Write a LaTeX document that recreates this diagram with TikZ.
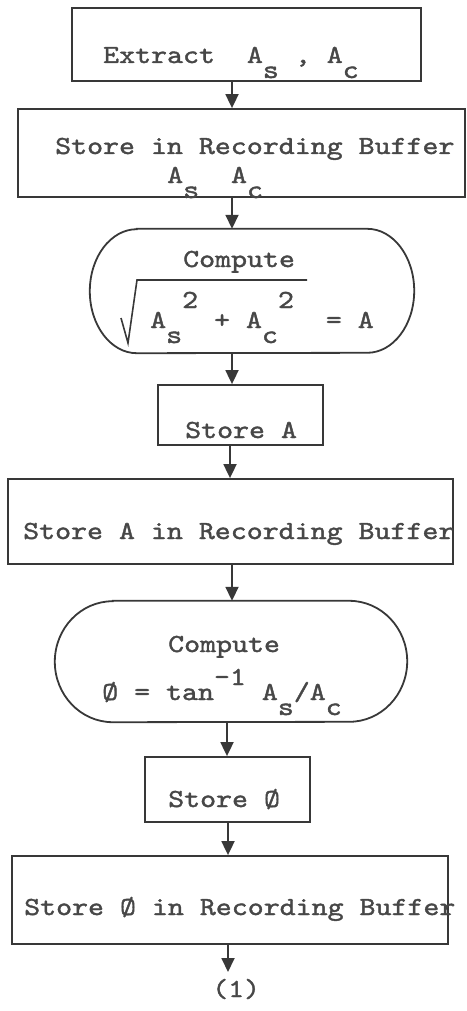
\documentclass[tikz,border=0pt]{standalone}
\usepackage{fontspec}
\usetikzlibrary{arrows.meta}
% a wide typewriter face
\newfontfamily\tyfam[FakeStretch=1.17, FakeBold=1.5]{lmmono10-regular.otf}
\newcommand\tyfont{\fontsize{26pt}{31pt}\selectfont\tyfam}
\newcommand\dn[1]{\raisebox{-15pt}{#1}}
\newcommand\upr[2]{\raisebox{#1}{#2}}
\tikzset{
  ln/.style={draw=black!78, line width=1.8pt},
  box/.style={ln, rectangle, inner sep=0pt},
  oval/.style={rectangle, inner sep=0pt},
  tx/.style={anchor=base west, inner sep=0pt, text=black!72, font=\tyfont},
  arr/.style={ln, -{Triangle[length=14pt,width=13pt]}},
}
\begin{document}
\begin{tikzpicture}[x=1pt, y=-1pt]
\useasboundingbox (0,0) rectangle (466,1011);

% process boxes and terminal-shaped compute steps
\node[box, minimum width=349pt, minimum height=73pt] (b1) at (246.5,44.5) {};
\node[box, minimum width=447pt, minimum height=88pt] (b2) at (241.5,153) {};
\node[oval, minimum width=324pt, minimum height=124pt] (t1) at (252,291) {};
\node[box, minimum width=165pt, minimum height=60pt] (b3) at (240.5,415) {};
\node[box, minimum width=445pt, minimum height=85pt] (b4) at (230.5,521.5) {};
\node[oval, minimum width=352pt, minimum height=121pt] (t2) at (231,661.5) {};
\node[box, minimum width=165pt, minimum height=65pt] (b5) at (227.5,789.5) {};
\node[box, minimum width=436pt, minimum height=88pt] (b6) at (230,900) {};

% rounded outlines of the compute steps
\draw[ln] ([xshift=47pt]t1.north west) -- ([xshift=-47pt]t1.north east)
  arc[start angle=90, end angle=-90, x radius=47pt, y radius=62pt]
  -- ([xshift=47pt]t1.south west)
  arc[start angle=270, end angle=90, x radius=47pt, y radius=62pt] -- cycle;
\draw[ln] ([xshift=58pt]t2.north west) -- ([xshift=-58pt]t2.north east)
  arc[start angle=90, end angle=-90, x radius=58pt, y radius=60.5pt]
  -- ([xshift=58pt]t2.south west)
  arc[start angle=270, end angle=90, x radius=58pt, y radius=60.5pt] -- cycle;

% texts
\node[tx] (x1) at (103,63) {Extract~~A\dn{s}~,~A\dn{c}};
\node[tx] (x2) at (55,154) {Store in Recording Buffer};
\node[tx] (x2b) at (167,183) {A\dn{s}~~A\dn{c}};
\node[tx] (x3) at (183,267) {Compute};
\node[tx] (x3b) at (150,328) {A\dn{s}\upr{20pt}{2}~+~A\dn{c}\upr{20pt}{2}~~=~A};
\node[tx] (x4) at (185,438) {Store A};
\node[tx] (x5) at (23,539) {Store A in Recording Buffer};
\node[tx] (x6) at (168,652) {Compute};
\node[tx] (x6b) at (102,700) {\O~=~tan\upr{15pt}{-1}~A\dn{s}/A\dn{c}};
\node[tx] (x7) at (168,807) {Store \O};
\node[tx] (x8) at (24,915) {Store \O{} in Recording Buffer};
\node[tx] (x9) at (212,997) {(1)};

% radical sign over the sum of squares
\draw[ln, line width=1.6pt] (121,318) -- (128,343) -- (137,280) -- (307,280);

% connectors
\coordinate (c1) at (232,0);
\coordinate (c2) at (230,0);
\coordinate (c3) at (228,0);
\coordinate (c4) at (227,0);
\coordinate (end) at (228,972);
\draw[arr] (b1.south -| c1) -- (b2.north -| c1);
\draw[arr] (b2.south -| c1) -- (t1.north -| c1);
\draw[arr] (t1.south -| c1) -- (b3.north -| c1);
\draw[arr] (b3.south -| c2) -- (b4.north -| c2);
\draw[arr] (b4.south -| c1) -- (t2.north -| c1);
\draw[arr] (t2.south -| c4) -- (b5.north -| c4);
\draw[arr] (b5.south -| c3) -- (b6.north -| c3);
\draw[arr] (b6.south -| c3) -- (end);
\end{tikzpicture}
\end{document}
